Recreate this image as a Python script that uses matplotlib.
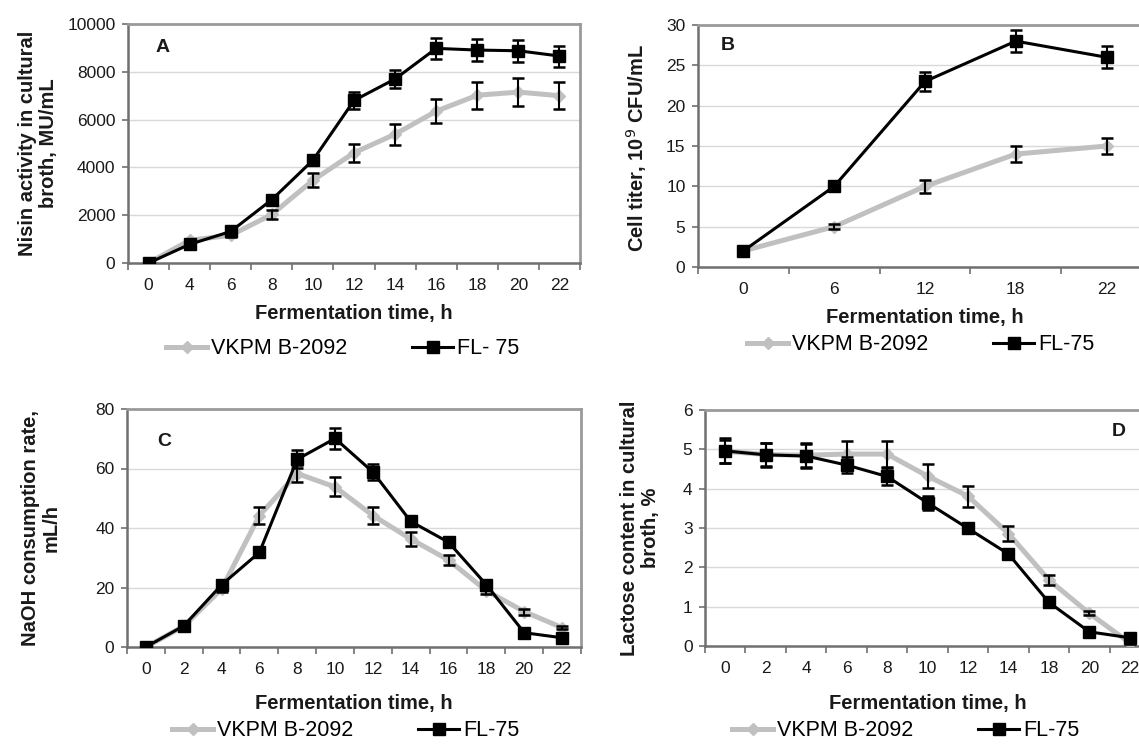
import numpy as np
import matplotlib
matplotlib.use("Agg")
import matplotlib.pyplot as plt
from matplotlib.lines import Line2D

plt.rcParams['font.family'] = ['Liberation Sans', 'DejaVu Sans']

W, H = 1139, 745

# ---- data ----
# A: nisin activity, MU/mL
timeA = ['0', '4', '6', '8', '10', '12', '14', '16', '18', '20', '22']
vkpmA = [0, 950, 1160, 2030, 3460, 4610, 5390, 6350, 7020, 7150, 7000]
vkpmA_err = [40, 60, 60, 170, 300, 370, 440, 510, 560, 570, 560]
flA = [0, 780, 1320, 2650, 4300, 6800, 7700, 8980, 8910, 8880, 8660]
flA_err = [40, 60, 60, 100, 150, 350, 380, 450, 450, 460, 440]

# B: cell titer, 10^9 CFU/mL
timeB = ['0', '6', '12', '18', '22']
vkpmB = [2.0, 5.0, 10.0, 14.0, 15.0]
vkpmB_err = [0.2, 0.3, 0.8, 1.0, 1.05]
flB = [2.0, 10.0, 23.0, 28.0, 26.0]
flB_err = [0.2, 0.3, 1.2, 1.4, 1.35]

# C: NaOH consumption rate, mL/h
timeC = ['0', '2', '4', '6', '8', '10', '12', '14', '16', '18', '20', '22']
vkpmC = [0, 7.0, 19.5, 44.2, 58.3, 53.8, 44.2, 36.3, 29.2, 18.9, 11.9, 6.5]
vkpmC_err = [0.3, 0.5, 1.0, 2.7, 3.0, 3.2, 2.7, 2.2, 1.7, 1.0, 1.0, 0.5]
flC = [0, 7.1, 20.9, 31.8, 63.1, 70.1, 58.8, 42.2, 35.2, 20.9, 4.8, 3.1]
flC_err = [0.3, 0.5, 1.0, 1.0, 3.0, 3.5, 2.8, 1.5, 1.0, 1.0, 0.5, 0.5]

# D: lactose content, %
timeD = ['0', '2', '4', '6', '8', '10', '12', '14', '18', '20', '22']
vkpmD = [4.95, 4.87, 4.85, 4.88, 4.88, 4.32, 3.81, 2.86, 1.68, 0.83, 0.08]
vkpmD_err = [0.3, 0.3, 0.3, 0.33, 0.33, 0.3, 0.27, 0.2, 0.13, 0.05, 0.03]
flD = [4.96, 4.86, 4.83, 4.60, 4.31, 3.64, 2.99, 2.34, 1.11, 0.36, 0.21]
flD_err = [0.32, 0.3, 0.3, 0.2, 0.22, 0.18, 0.12, 0.1, 0.08, 0.05, 0.05]

GRAY = '#c0c0c0'
TXT = '#1a1a1a'


def box(l, t, r, b):
    return [l / W, 1 - b / H, (r - l) / W, (b - t) / H]


def fx(x):
    return x / W


def fy(y):
    return 1 - y / H


def panel(fig, rect, cats, vk, vk_e, fl, fl_e, ymax, ystep, letter, lpos,
          ylab, ylab_pos, xlab_y, leg_pos, fl_name):
    ax = fig.add_axes(rect)
    n = len(cats)
    x = np.arange(n)
    ax.plot(x, vk, color=GRAY, lw=3.6, marker='D', ms=6, mfc=GRAY, mec=GRAY, zorder=3)
    ax.errorbar(x, vk, yerr=vk_e, fmt='none', ecolor='black', elinewidth=1.5,
                capsize=4.5, capthick=1.8, zorder=4)
    ax.plot(x, fl, color='black', lw=2.2, marker='s', ms=8, mfc='black', mec='black', zorder=5)
    ax.errorbar(x, fl, yerr=fl_e, fmt='none', ecolor='black', elinewidth=1.5,
                capsize=4.5, capthick=1.8, zorder=6)

    ax.set_xlim(-0.5, n - 0.5)
    ax.set_ylim(0, ymax)
    ax.set_yticks(np.arange(0, ymax + ystep / 2, ystep))
    ax.yaxis.grid(True, color='#d9d9d9', lw=1)
    ax.set_axisbelow(True)

    ax.set_xticks(np.arange(-0.5, n, 1.0))
    ax.set_xticklabels([])
    ax.set_xticks(x, minor=True)
    ax.set_xticklabels(cats, minor=True)
    ax.tick_params(axis='x', which='major', direction='out', length=5, width=1.2, color='#707070')
    ax.tick_params(axis='x', which='minor', length=0, pad=11, labelsize=12.5, labelcolor=TXT)
    ax.tick_params(axis='y', direction='out', length=4, width=1.2, color='#707070',
                   pad=5, labelsize=12.5, labelcolor=TXT)

    for s in ['left', 'bottom']:
        ax.spines[s].set_color('#707070')
        ax.spines[s].set_linewidth(1.8)
    for s in ['top', 'right']:
        ax.spines[s].set_color('#9a9a9a')
        ax.spines[s].set_linewidth(2.0)

    fig.text(fx(lpos[0]), fy(lpos[1]), letter, fontsize=14, fontweight='bold',
             ha='center', va='center', color=TXT)
    fig.text(fx(ylab_pos[0]), fy(ylab_pos[1]), ylab, rotation=90, fontsize=14.5,
             fontweight='bold', ha='center', va='center', multialignment='center',
             linespacing=1.1, color=TXT)
    pos = ax.get_position()
    fig.text(pos.x0 + pos.width / 2, fy(xlab_y), 'Fermentation time, h', fontsize=14.5,
             fontweight='bold', ha='center', va='center', color=TXT)

    handles = [Line2D([], [], color=GRAY, lw=3.6, marker='D', ms=6, mfc=GRAY, mec=GRAY),
               Line2D([], [], color='black', lw=2.2, marker='s', ms=8)]
    fig.legend(handles, ['VKPM B-2092', fl_name], loc='center', ncol=2,
               bbox_to_anchor=(fx(leg_pos[0]), fy(leg_pos[1])), frameon=False,
               fontsize=15.5, handlelength=1.9, handletextpad=0.2, columnspacing=3.0,
               borderpad=0, borderaxespad=0)
    return ax


fig = plt.figure(figsize=(W / 100, H / 100), dpi=100)

panel(fig, box(128, 24, 580, 263), timeA, vkpmA, vkpmA_err, flA, flA_err,
      10000, 2000, 'A', (163, 48),
      'Nisin activity in cultural\nbroth, MU/mL', (38, 143), 313, (343, 349), 'FL- 75')

panel(fig, box(698, 25, 1152, 267), timeB, vkpmB, vkpmB_err, flB, flB_err,
      30, 5, 'B', (728, 46),
      'Cell titer, 10$^{9}$ CFU/mL', (637, 148), 317, (921, 345), 'FL-75')

panel(fig, box(127, 409, 581, 647), timeC, vkpmC, vkpmC_err, flC, flC_err,
      80, 20, 'C', (164, 442),
      'NaOH consumption rate,\nmL/h', (41, 528), 704, (346, 731), 'FL-75')

panel(fig, box(705, 410, 1150, 646), timeD, vkpmD, vkpmD_err, flD, flD_err,
      6, 1, 'D', (1119, 432),
      'Lactose content in cultural\nbroth, %', (640, 528), 704, (906, 731), 'FL-75')

fig.savefig('out.png', dpi=100)
